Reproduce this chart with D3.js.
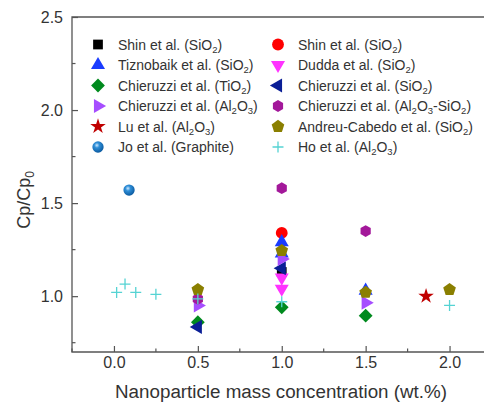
<!DOCTYPE html>
<html>
<head>
<meta charset="utf-8">
<script src="https://cdn.jsdelivr.net/npm/d3@7"></script>
<style>
  body { margin: 0; background: #fff; }
  svg { display: block; font-family: "Liberation Sans", Arial, sans-serif; }
  .tick-label { font-size: 16px; fill: #333; }
  .legend text { font-size: 14px; fill: #333; }
</style>
</head>
<body>
<div id="chart"></div>
<script>
'use strict';

// Series names (legend order, row by row) and their points [x, y].
var seriesNames = [
    'Shin et al. (SiO_2)', 'Shin et al. (SiO_2)',
    'Tiznobaik et al. (SiO_2)', 'Dudda et al. (SiO_2)',
    'Chieruzzi et al. (TiO_2)', 'Chieruzzi et al. (SiO_2)',
    'Chieruzzi et al. (Al_2O_3)', 'Chieruzzi et al. (Al_2O_3-SiO_2)',
    'Lu et al. (Al_2O_3)', 'Andreu-Cabedo et al. (SiO_2)',
    'Jo et al. (Graphite)', 'Ho et al. (Al_2O_3)'
];
var shinSquare = [[1.0, 1.13]];
var shinCircle = [[1.0, 1.34]];
var tiznobaik = [[1.0, 1.29], [1.0, 1.23], [1.5, 1.03]];
var dudda = [[1.0, 1.10], [1.0, 1.04]];
var chieruzziTiO2 = [[0.5, 0.86], [1.0, 0.94], [1.5, 0.895]];
var chieruzziSiO2 = [[0.5, 0.835], [1.0, 1.15]];
var chieruzziAl2O3 = [[0.5, 0.95], [1.0, 1.20], [1.5, 0.965]];
var chieruzziMix = [[0.5, 0.985], [1.0, 1.58], [1.5, 1.35]];
var lu = [[1.86, 1.0]];
var andreuCabedo = [[0.5, 1.035], [1.0, 1.245], [1.5, 1.02], [2.0, 1.035]];
var jo = [[0.09, 1.57]];
var ho = [[0.016, 1.02], [0.066, 1.065], [0.13, 1.02], [0.25, 1.01], [0.5, 0.985], [1.0, 0.97], [2.0, 0.95]];

var xTicks = [0, 0.5, 1.0, 1.5, 2.0];
var xMinorTicks = [-0.25, 0.25, 0.75, 1.25, 1.75, 2.25];
var yTicks = [1.0, 1.5, 2.0, 2.5];
var yMinorTicks = [0.75, 1.25, 1.75, 2.25];

// Custom polygon symbols.
function polygon(n, rot) {
    return {
        draw: function(ctx, size) {
            var r = Math.sqrt(size / (n / 2 * Math.sin(2 * Math.PI / n)));
            for (var i = 0; i < n; i++) {
                var a = rot + i * 2 * Math.PI / n;
                var px = r * Math.sin(a), py = -r * Math.cos(a);
                if (i === 0) ctx.moveTo(px, py); else ctx.lineTo(px, py);
            }
            ctx.closePath();
        }
    };
}
var triUp = polygon(3, 0);
var triDown = polygon(3, Math.PI);
var triLeft = polygon(3, -Math.PI / 2);
var triRight = polygon(3, Math.PI / 2);
var diamond = polygon(4, 0);
var pentagon = polygon(5, 0);
var hexagon = polygon(6, 0);
var plus = {
    draw: function(ctx, size) {
        var r = Math.sqrt(size) / 2;
        ctx.moveTo(-r, 0); ctx.lineTo(r, 0);
        ctx.moveTo(0, -r); ctx.lineTo(0, r);
    }
};

var styles = [
    {data: shinSquare, type: d3.symbolSquare, size: 95, fill: '#000000'},
    {data: shinCircle, type: d3.symbolCircle, size: 110, fill: '#ff0000'},
    {data: tiznobaik, type: triUp, size: 85, fill: '#1a3cff'},
    {data: dudda, type: triDown, size: 85, fill: '#ff33ff'},
    {data: chieruzziTiO2, type: diamond, size: 95, fill: '#008a1e'},
    {data: chieruzziSiO2, type: triLeft, size: 85, fill: '#0a1e96'},
    {data: chieruzziAl2O3, type: triRight, size: 85, fill: '#a64dff'},
    {data: chieruzziMix, type: hexagon, size: 90, fill: '#a3189a'},
    {data: lu, type: d3.symbolStar, size: 75, fill: '#c00000'},
    {data: andreuCabedo, type: pentagon, size: 105, fill: '#8a7f00'},
    {data: jo, type: d3.symbolCircle, size: 100, fill: 'url(#sphere)'},
    {data: ho, type: plus, size: 120, stroke: '#55d3d3'}
];

var width = 484, height = 409;
var margin = {top: 17, left: 72, bottom: 57};

var svg = d3.select('#chart').append('svg')
    .attr('width', width)
    .attr('height', height);

var grad = svg.append('defs').append('radialGradient')
    .attr('id', 'sphere')
    .attr('cx', '40%').attr('cy', '35%').attr('r', '65%');
grad.append('stop').attr('offset', '0%').attr('stop-color', '#cfe9ff');
grad.append('stop').attr('offset', '35%').attr('stop-color', '#2f8fd8');
grad.append('stop').attr('offset', '100%').attr('stop-color', '#0b5aa0');

var xScale = d3.scaleLinear()
    .domain([-0.25, 2.25])
    .range([margin.left, 491.5]);
var yScale = d3.scaleLinear()
    .domain([0.7, 2.5])
    .range([height - margin.bottom, margin.top]);

var axisColor = '#555';

// Frame: left, bottom and top lines (right side is off the picture).
svg.append('path')
    .attr('d', 'M' + (width + 5) + ',' + yScale(2.5) + 'H' + xScale(-0.25) +
        'V' + yScale(0.7) + 'H' + (width + 5))
    .attr('fill', 'none')
    .attr('stroke', axisColor)
    .attr('stroke-width', 1.3);

// x-axis, ticks pointing inward.
var xAxis = d3.axisBottom(xScale)
    .tickValues(xTicks)
    .tickFormat(d3.format('.1f'))
    .tickSize(-6)
    .tickPadding(5);
var xg = svg.append('g')
    .attr('transform', 'translate(0,' + yScale(0.7) + ')')
    .call(xAxis);
xg.select('.domain').remove();
xg.selectAll('line').attr('stroke', axisColor).attr('stroke-width', 1.2);
xg.selectAll('text').attr('class', 'tick-label').attr('font-size', null).attr('fill', null);
xg.selectAll('line.minor').data(xMinorTicks).enter().append('line')
    .attr('x1', function(d) { return xScale(d); })
    .attr('x2', function(d) { return xScale(d); })
    .attr('y1', 0).attr('y2', -3.5)
    .attr('stroke', axisColor).attr('stroke-width', 1.2);

// y-axis, ticks pointing inward.
var yAxis = d3.axisLeft(yScale)
    .tickValues(yTicks)
    .tickFormat(d3.format('.1f'))
    .tickSize(-6)
    .tickPadding(9);
var yg = svg.append('g')
    .attr('transform', 'translate(' + xScale(-0.25) + ',0)')
    .call(yAxis);
yg.select('.domain').remove();
yg.selectAll('line').attr('stroke', axisColor).attr('stroke-width', 1.2);
yg.selectAll('text').attr('class', 'tick-label').attr('font-size', null).attr('fill', null);
yg.selectAll('line.minor').data(yMinorTicks).enter().append('line')
    .attr('y1', function(d) { return yScale(d); })
    .attr('y2', function(d) { return yScale(d); })
    .attr('x1', 0).attr('x2', 3.5)
    .attr('stroke', axisColor).attr('stroke-width', 1.2);

// Axis titles.
svg.append('text')
    .attr('x', 281)
    .attr('y', 398)
    .attr('text-anchor', 'middle')
    .attr('font-size', '18.8px')
    .attr('fill', '#333')
    .text('Nanoparticle mass concentration (wt.%)');

var yTitle = svg.append('text')
    .attr('transform', 'translate(30,200) rotate(-90)')
    .attr('text-anchor', 'middle')
    .attr('font-size', '18px')
    .attr('fill', '#333');
yTitle.append('tspan').text('Cp/Cp');
yTitle.append('tspan').attr('font-size', '12px').attr('dy', '4').text('0');

// Write a label with "_n" subscripts as tspans.
function richText(sel, label) {
    var parts = label.split(/_(\d)/);
    parts.forEach(function(p, i) {
        if (p === '') return;
        var t = sel.append('tspan').text(p);
        if (i % 2 === 1) {
            t.attr('font-size', '9.5px').attr('dy', '3');
        } else if (i > 0) {
            t.attr('dy', '-3');
        }
    });
}

function symbolPath(s) {
    return d3.symbol().type(s.type).size(s.size)();
}

// Markers.
var plot = svg.append('g');
styles.forEach(function(s) {
    plot.selectAll(null)
        .data(s.data)
        .enter()
        .append('path')
        .attr('d', symbolPath(s))
        .attr('transform', function(d) {
            return 'translate(' + xScale(d[0]) + ',' + yScale(d[1]) + ')';
        })
        .attr('fill', s.stroke ? 'none' : s.fill)
        .attr('stroke', s.stroke || 'none')
        .attr('stroke-width', s.stroke ? 1.3 : 0);
});

// Legend: two columns.
var legend = svg.append('g').attr('class', 'legend');
var colX = [98, 278], rowY0 = 44.5, rowStep = 20.5;
styles.forEach(function(s, i) {
    var cx = colX[i % 2], cy = rowY0 + Math.floor(i / 2) * rowStep;
    legend.append('path')
        .attr('d', symbolPath(s))
        .attr('transform', 'translate(' + cx + ',' + cy + ')')
        .attr('fill', s.stroke ? 'none' : s.fill)
        .attr('stroke', s.stroke || 'none')
        .attr('stroke-width', s.stroke ? 1.3 : 0);
    var t = legend.append('text')
        .attr('x', cx + 20)
        .attr('y', cy + 5);
    richText(t, seriesNames[i]);
});
</script>
</body>
</html>
